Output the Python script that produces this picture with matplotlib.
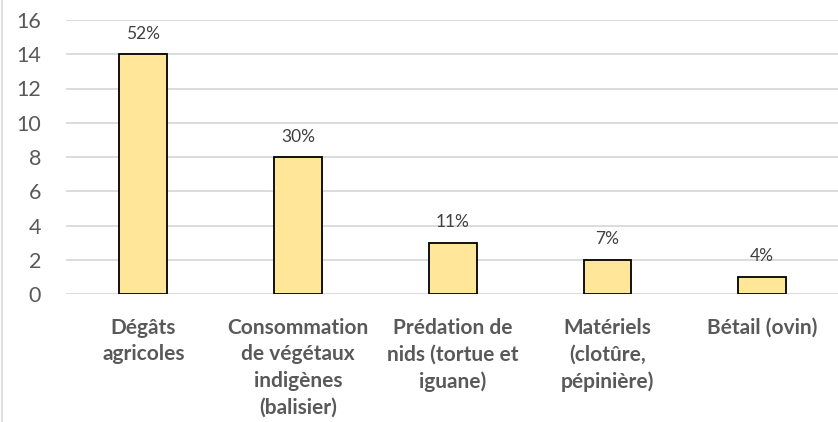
import matplotlib.pyplot as plt
from matplotlib.lines import Line2D

# -------- DATA --------
categories = [
    "Dégâts\nagricoles",
    "Consommation\nde végétaux\nindigènes\n(balisier)",
    "Prédation de\nnids (tortue et\niguane)",
    "Matériels\n(clotûre,\npépinière)",
    "Bétail (ovin)",
]
counts = [14, 8, 3, 2, 1]
pct_labels = ["52%", "30%", "11%", "7%", "4%"]
y_ticks = [0, 2, 4, 6, 8, 10, 12, 14, 16]

plt.rcParams['font.family'] = ['Lato', 'DejaVu Sans']

fig = plt.figure(figsize=(8.38, 4.22), dpi=100)
ax = fig.add_axes([66 / 838, 1 - 294 / 422, 1 - 66 / 838, 274 / 422])

x = list(range(len(categories)))
bars = ax.bar(x, counts, width=0.31, color='#FFE699', edgecolor='black',
              linewidth=1.3, zorder=3)

for rect, lab in zip(bars, pct_labels):
    ax.annotate(lab, (rect.get_x() + rect.get_width() / 2, rect.get_height()),
                xytext=(0, 9), textcoords='offset points', ha='center',
                va='bottom', fontsize=12.5, color='#404040')

ax.set_xlim(-0.5, 4.49)
ax.set_ylim(0, 16)
ax.set_yticks(y_ticks)
ax.yaxis.grid(True, color='#d9d9d9', linewidth=1.3, zorder=0)
ax.set_axisbelow(True)
for s in ax.spines.values():
    s.set_visible(False)

ax.set_xticks(x)
ax.set_xticklabels(categories, fontsize=15, fontweight='bold', color='#595959',
                   linespacing=1.42, va='top')
ax.tick_params(axis='x', length=0, pad=17)
ax.tick_params(axis='y', length=0, pad=18, labelsize=15.5, labelcolor='#595959')

# light chart border on the left
fig.add_artist(Line2D([2 / 838, 2 / 838], [0, 1], color='#d9d9d9', linewidth=1.2))

fig.savefig('out.png', dpi=100)
